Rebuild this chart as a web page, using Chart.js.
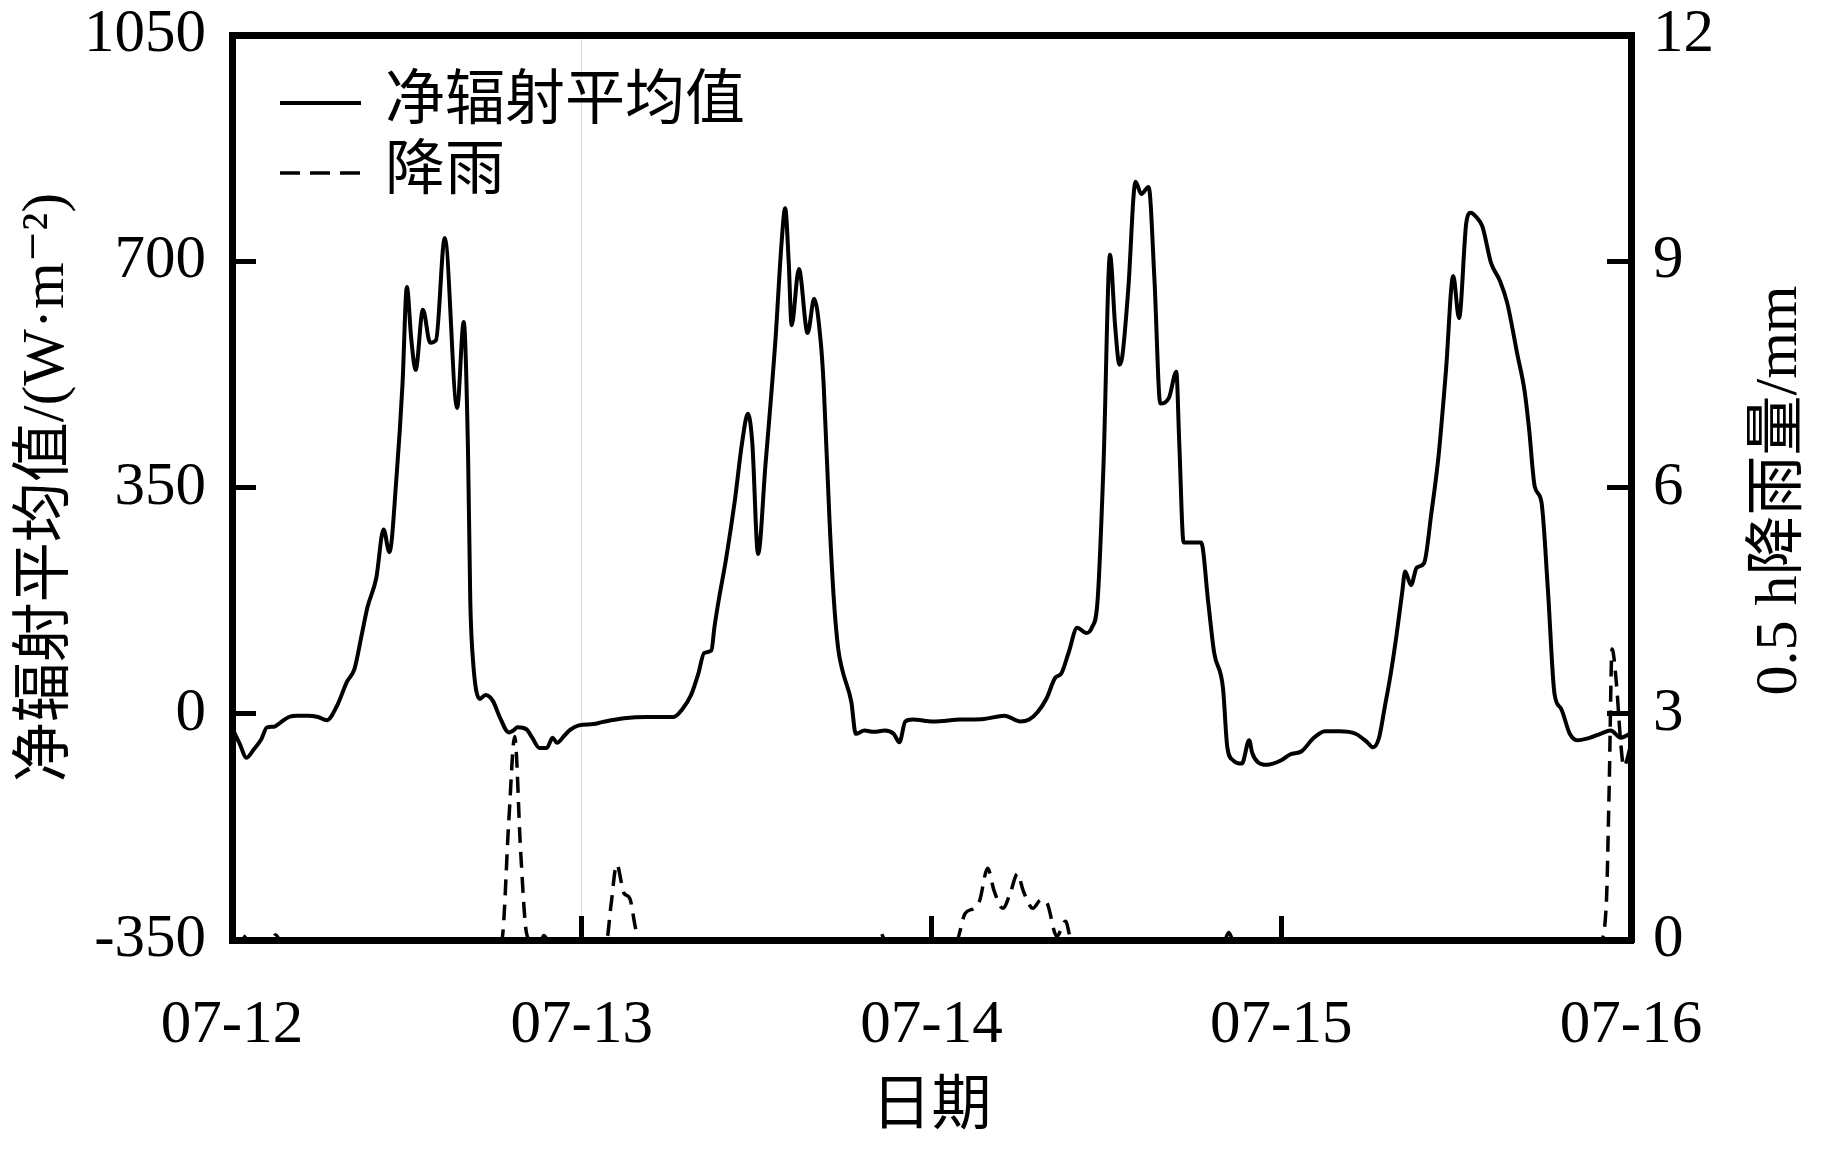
<!DOCTYPE html>
<html>
<head>
<meta charset="utf-8">
<script src="https://cdn.jsdelivr.net/npm/chart.js@4.4.1/dist/chart.umd.min.js"></script>
<style>
  html, body { margin: 0; padding: 0; background: #fff; }
</style>
</head>
<body>
<canvas id="chart" width="1828" height="1154"></canvas>
<script>
// x is hours since 07-12 00:00
const dateLabels = ['07-12', '07-13', '07-14', '07-15', '07-16'];

const radHours = [
  0, 0.5, 1.0, 1.5, 2.0, 2.4, 2.9, 3.3, 3.9, 4.5,
  5.2, 5.9, 6.5, 7.2, 7.9, 8.4, 8.9, 9.3, 9.9, 10.4,
  10.8, 11.3, 11.7, 12.0, 12.3, 12.6, 13.1, 13.6, 14.0, 14.6,
  15.45, 15.9, 16.2, 16.35, 16.5, 17.0, 17.4, 17.9, 18.35, 19.0,
  19.3, 19.6, 20.2, 20.6, 21.1, 21.6, 22.0, 22.3, 22.8, 23.2,
  23.8, 24.8, 25.4, 26.9, 28.5, 30.3, 30.9, 31.5, 32.0, 32.4,
  32.9, 33.1, 33.4, 33.9, 34.5, 35.0, 35.4, 35.7, 36.1, 36.6,
  37.3, 37.7, 37.96, 38.2, 38.4, 38.9, 39.5, 39.95, 40.4, 40.6,
  41.0, 41.3, 41.6, 41.9, 42.5, 42.8, 43.4, 44.05, 44.8, 45.4,
  45.8, 46.2, 46.7, 48.1, 50.0, 51.6, 53.0, 54.1, 54.7, 55.3,
  55.9, 56.5, 56.9, 57.4, 58.0, 58.6, 59.0, 59.4, 59.8, 60.25,
  60.6, 60.9, 61.1, 61.5, 62.0, 62.4, 62.9, 63.3, 63.7, 64.3,
  64.8, 65.0, 65.3, 66.5, 67.0, 67.4, 68.0, 68.3, 68.7, 69.3,
  69.8, 70.0, 70.4, 71.0, 72.0, 72.6, 73.4, 74.2, 75.0, 76.0,
  77.1, 77.9, 78.3, 78.7, 79.1, 79.5, 79.9, 80.3, 80.5, 80.9,
  81.3, 81.8, 82.3, 82.8, 83.3, 83.8, 84.2, 84.7, 85.0, 85.4,
  85.8, 86.4, 87.0, 87.5, 88.2, 88.7, 89.0, 89.4, 89.85, 90.3,
  90.75, 91.2, 91.8, 92.3, 93.2, 93.9, 94.6, 95.3, 96.0
];
const radValues = [
  -22, -45, -68, -55, -40, -21, -20, -14, -5, -3,
  -3, -5, -10, 12, 50, 69, 122, 165, 210, 285,
  250, 370, 510, 660, 580, 532, 625, 574, 578, 736,
  473, 606, 400, 176, 94, 23, 29, 20, -4, -29,
  -26, -21, -24, -37, -53, -53, -37, -45, -34, -25,
  -18, -16, -13, -7, -5, -5, 7, 29, 62, 94,
  98, 133, 176, 239, 329, 419, 464, 420, 247, 383,
  581, 725, 782, 700, 601, 688, 589, 642, 575, 509,
  300, 176, 100, 66, 18, -31, -26, -28, -26, -31,
  -44, -12, -9, -12, -9, -8, -3, -12, -9, 3,
  24, 56, 62, 94, 133, 125, 133, 176, 383, 710,
  600, 540, 554, 656, 823, 804, 815, 671, 480, 489,
  529, 420, 265, 265, 170, 94, 40, -52, -72, -77,
  -41, -60, -75, -79, -72, -63, -58, -38, -27, -27,
  -31, -44, -52, -38, 10, 60, 120, 188, 220, 199,
  226, 233, 310, 400, 530, 677, 612, 760, 775, 768,
  754, 697, 670, 636, 556, 499, 442, 351, 328, 191,
  31, 8, -31, -41, -37, -31, -26, -37, -30
];

const rainHours = [
  0, 0.7, 1.0, 1.3, 2.7, 3.0, 3.3,
  18.5, 19.0, 19.4, 19.8, 20.2, 20.5,
  21.2, 21.4, 21.7,
  25.7, 26.0, 26.4, 26.9, 27.3, 27.7, 28.0,
  44.2, 44.5, 44.8,
  49.7, 50.3, 50.9, 51.3, 51.85, 52.3, 52.9, 53.4, 53.9, 54.3,
  54.96, 55.5, 55.9, 56.6, 57.2, 57.6,
  68.1, 68.4, 68.7,
  93.9, 94.3, 94.5, 94.7, 95.0, 95.3, 95.5, 96.0
];
const rainValues = [
  0, 0, 0.07, 0, 0, 0.07, 0,
  0, 1.6, 2.7, 1.2, 0.1, 0,
  0, 0.06, 0,
  0, 0.45, 1.0, 0.62, 0.55, 0.15, 0,
  0, 0.1, 0,
  0, 0.35, 0.42, 0.52, 0.95, 0.65, 0.42, 0.62, 0.88, 0.65,
  0.42, 0.53, 0.5, 0.05, 0.25, 0,
  0, 0.1, 0,
  0, 0.45, 2.0, 3.86, 3.4, 2.6, 2.3, 2.6
];

const BLACK = '#000';
const SERIF = "'Liberation Serif', 'Noto Sans CJK SC', 'DejaVu Serif', serif";
const tickFont = { family: SERIF, size: 61 };
const titleFont = { family: SERIF, size: 60 };
const rightTitle = '0.5 h降雨量/mm';

// legend drawn inside the plot, top-left
const insideLegend = {
  id: 'insideLegend',
  afterDatasetsDraw(chart) {
    const { ctx, chartArea } = chart;
    const x0 = chartArea.left + 48;
    chart.data.datasets.forEach((ds, i) => {
      const y = chartArea.top + 68 + i * 70;
      ctx.save();
      ctx.strokeStyle = ds.borderColor;
      ctx.lineWidth = ds.borderWidth;
      ctx.setLineDash(ds.borderDash ? [20, 10] : []);
      ctx.beginPath();
      ctx.moveTo(x0, y);
      ctx.lineTo(x0 + 81, y);
      ctx.stroke();
      ctx.setLineDash([]);
      ctx.fillStyle = BLACK;
      ctx.font = '60px ' + SERIF;
      ctx.textAlign = 'left';
      ctx.textBaseline = 'middle';
      ctx.fillText(ds.label, x0 + 105, y);
      ctx.restore();
    });
  }
};

// right axis title reads bottom-to-top like the left one
const rightAxisTitle = {
  id: 'rightAxisTitle',
  afterDraw(chart) {
    const { ctx, chartArea } = chart;
    ctx.save();
    ctx.translate(1780, (chartArea.top + chartArea.bottom) / 2 + 3);
    ctx.rotate(-Math.PI / 2);
    ctx.fillStyle = BLACK;
    ctx.font = '60px ' + SERIF;
    ctx.textAlign = 'center';
    ctx.textBaseline = 'middle';
    ctx.fillText(rightTitle, 0, 0);
    ctx.restore();
  }
};

// fixed box sizes so the plot frame lands where the original's does
function fixBox(size, isWidth) {
  return s => {
    if (isWidth) s.width = size; else s.height = size;
    s.paddingTop = 0;
    s.paddingBottom = 0;
    s.paddingLeft = 0;
    s.paddingRight = 0;
  };
}

new Chart(document.getElementById('chart'), {
  type: 'line',
  data: {
    datasets: [
      {
        label: '净辐射平均值',
        data: radHours.map((h, i) => ({ x: h, y: radValues[i] })),
        xAxisID: 'x',
        yAxisID: 'y',
        borderColor: BLACK,
        borderWidth: 4,
        pointRadius: 0,
        fill: false,
        cubicInterpolationMode: 'monotone'
      },
      {
        label: '降雨',
        data: rainHours.map((h, i) => ({ x: h, y: rainValues[i] })),
        xAxisID: 'x',
        yAxisID: 'y1',
        borderColor: BLACK,
        borderWidth: 3.5,
        borderDash: [16, 9],
        pointRadius: 0,
        fill: false,
        cubicInterpolationMode: 'monotone'
      }
    ]
  },
  options: {
    responsive: false,
    animation: false,
    layout: { padding: { left: 0, right: 0, top: 35, bottom: 0 } },
    plugins: {
      legend: { display: false },
      tooltip: { enabled: false }
    },
    scales: {
      x: {
        type: 'linear',
        position: 'bottom',
        min: 0,
        max: 96,
        afterFit: fixBox(214, false),
        ticks: {
          stepSize: 24,
          autoSkip: false,
          maxRotation: 0,
          color: BLACK,
          font: tickFont,
          padding: 73,
          callback: v => dateLabels[v / 24]
        },
        grid: {
          drawOnChartArea: true,
          color: c => (c.tick && c.tick.value === 24) ? '#dcdcdc' : 'rgba(0,0,0,0)',
          lineWidth: 1,
          borderDash: [2, 8],
          tickLength: -24,
          tickWidth: 5,
          tickColor: BLACK
        },
        border: { color: BLACK, width: 7 },
        title: {
          display: true,
          text: '日期',
          color: BLACK,
          font: titleFont,
          padding: { top: 0, bottom: 10 }
        }
      },
      xTop: {
        type: 'linear',
        position: 'top',
        min: 0,
        max: 96,
        afterFit: fixBox(0, false),
        ticks: { display: false },
        grid: { drawOnChartArea: false, drawTicks: false },
        border: { color: BLACK, width: 7 }
      },
      y: {
        type: 'linear',
        position: 'left',
        min: -350,
        max: 1050,
        afterFit: fixBox(232, true),
        ticks: {
          stepSize: 350,
          color: BLACK,
          font: tickFont,
          padding: 50,
          callback: v => String(v)
        },
        grid: {
          drawOnChartArea: false,
          tickLength: -24,
          tickWidth: 5,
          tickColor: BLACK
        },
        border: { color: BLACK, width: 7 },
        title: {
          display: true,
          text: '净辐射平均值/(W·m⁻²)',
          color: BLACK,
          font: titleFont,
          padding: { top: 11, bottom: 0 }
        }
      },
      y1: {
        type: 'linear',
        position: 'right',
        min: 0,
        max: 12,
        afterFit: fixBox(197, true),
        ticks: {
          stepSize: 3,
          color: BLACK,
          font: tickFont,
          padding: 46,
          callback: v => String(v)
        },
        grid: {
          drawOnChartArea: false,
          tickLength: -24,
          tickWidth: 5,
          tickColor: BLACK
        },
        border: { color: BLACK, width: 7 }
      }
    }
  },
  plugins: [insideLegend, rightAxisTitle]
});
</script>
</body>
</html>
